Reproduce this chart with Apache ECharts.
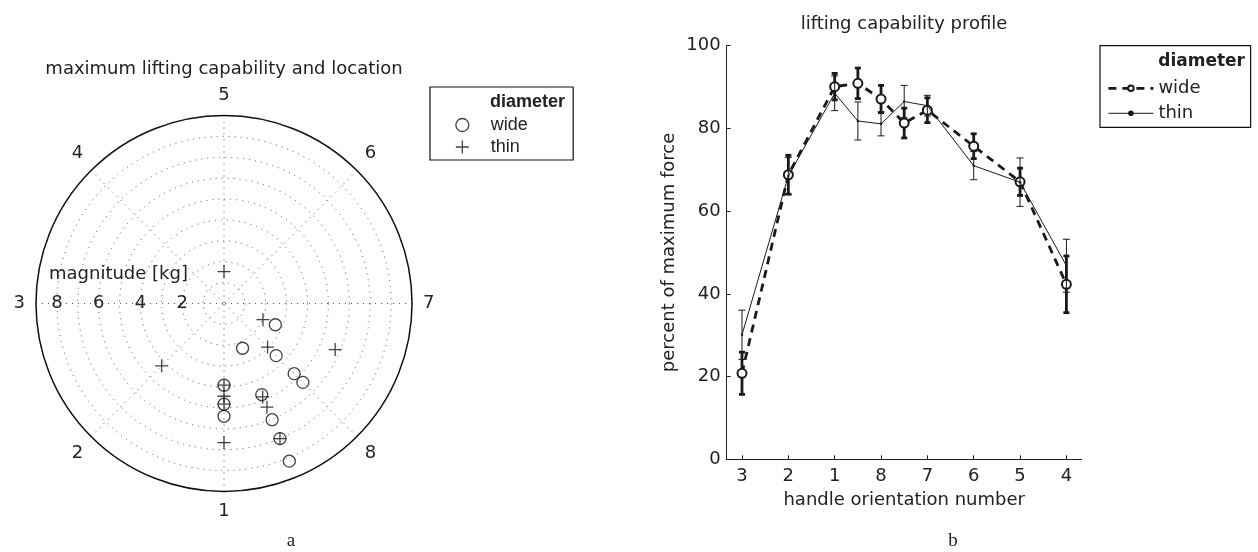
<!DOCTYPE html>
<html><head><meta charset="utf-8">
<script src="https://cdn.jsdelivr.net/npm/echarts@6/dist/echarts.min.js"></script>
<style>html,body{margin:0;padding:0;background:#fff}#c{width:1258px;height:552px}</style>
</head><body><div id="c"></div>
<script>
// ---- panel a: polar scatter (direction number, magnitude in kg) ----
const polarDirLabels = ['3', '4', '5', '6', '7', '8', '1', '2']; // angle ticks 0,45,...,315
const radiusTicks = [2, 4, 6, 8];
const wideDir = [7.5, 8, 8, 8, 8.5, 8.5, 8.5, 8.5, 8.5, 1, 1, 1];
const wideMag = [2.66, 3.53, 4.75, 5.34, 2.32, 4.72, 6.02, 7.0, 8.17, 3.91, 4.82, 5.40];
const thinDir = [7.5, 7.5, 8, 8.5, 8.5, 8.5, 1, 1, 1, 1, 2, 5];
const thinMag = [2.02, 5.76, 2.95, 4.84, 5.37, 7.0, 3.91, 4.44, 4.82, 6.66, 4.22, 1.53];

// ---- panel b: lifting capability profile ----
const orientLabels = ['3', '2', '1', '8', '7', '6', '5', '4'];
const profilePos = [0, 1, 2, 2.5, 3, 3.5, 4, 5, 6, 7];
const wideMean = [20.8, 68.8, 90.1, 90.9, 87.1, 81.3, 84.4, 75.7, 67.1, 42.3];
const wideErr = [5.1, 4.7, 3.2, 3.7, 3.3, 3.6, 3.0, 3.0, 3.3, 6.85];
const thinMean = [30.1, 68.5, 88.5, 81.8, 81.1, 86.5, 85.5, 71.0, 67.0, 46.8];
const thinErr = [5.95, 4.5, 4.2, 4.6, 2.9, 3.9, 2.5, 3.4, 5.85, 6.4];

const FONT = 'DejaVu Sans';
const TXT = '#222';
const dirAngle = d => ((d - 3) * 45 + 360) % 360;

function errBar(lw, cap) {
  return function (params, api) {
    const x = api.value(0), lo = api.value(1), hi = api.value(2);
    const a = api.coord([x, lo]), b = api.coord([x, hi]);
    const st = { stroke: '#1a1a1a', lineWidth: lw };
    return { type: 'group', children: [
      { type: 'line', shape: { x1: a[0], y1: a[1], x2: b[0], y2: b[1] }, style: st },
      { type: 'line', shape: { x1: a[0] - cap, y1: a[1], x2: a[0] + cap, y2: a[1] }, style: st },
      { type: 'line', shape: { x1: b[0] - cap, y1: b[1], x2: b[0] + cap, y2: b[1] }, style: st }
    ]};
  };
}

const dotted = { color: '#555', width: 1, type: [1, 5] };
const chart = echarts.init(document.getElementById('c'), null, { renderer: 'canvas' });
chart.setOption({
  animation: false,
  backgroundColor: '#fff',
  textStyle: { fontFamily: FONT, color: TXT },
  title: [
    { text: 'maximum lifting capability and location', left: 224, top: 60, textAlign: 'center', padding: 0,
      textStyle: { fontFamily: FONT, fontSize: 18, fontWeight: 'normal', color: TXT } },
    { text: 'magnitude [kg]', left: 49, top: 265, padding: 0,
      textStyle: { fontFamily: FONT, fontSize: 18, fontWeight: 'normal', color: TXT } },
    { text: 'diameter', left: 490, top: 93, padding: 0,
      textStyle: { fontFamily: 'Liberation Sans', fontSize: 18, fontWeight: 'bold', color: TXT } },
    { text: 'lifting capability profile', left: 904, top: 15, textAlign: 'center', padding: 0,
      textStyle: { fontFamily: FONT, fontSize: 18, fontWeight: 'normal', color: TXT } },
    { text: 'diameter', right: 13, top: 53, padding: 0,
      textStyle: { fontFamily: FONT, fontSize: 17, fontWeight: 'bold', color: TXT } },
    { text: 'a', left: 291, top: 532, textAlign: 'center', padding: 0,
      textStyle: { fontFamily: 'Liberation Serif', fontSize: 19, fontWeight: 'normal', color: TXT } },
    { text: 'b', left: 953, top: 532, textAlign: 'center', padding: 0,
      textStyle: { fontFamily: 'Liberation Serif', fontSize: 19, fontWeight: 'normal', color: TXT } }
  ],
  legend: [
    { orient: 'vertical', left: 430, top: 87, padding: [29, 45.5, 4, 25.2],
      borderColor: '#111', borderWidth: 1.2, backgroundColor: '#fff',
      itemWidth: 46.6, itemHeight: 13, itemGap: 4,
      itemStyle: { borderWidth: 1.3 },
      data: ['wide#p', 'thin#p'],
      formatter: n => n.split('#')[0],
      textStyle: { fontFamily: 'Liberation Sans', fontSize: 18, color: TXT } },
    { orient: 'vertical', left: 1100, top: 45.7, padding: [33.6, 50, 5, 7],
      borderColor: '#111', borderWidth: 1.2, backgroundColor: '#fff',
      itemWidth: 45, itemHeight: 7, itemGap: 7,
      data: [{ name: 'wide#l', lineStyle: { width: 2.8 } }, { name: 'thin#l', lineStyle: { width: 1 } }],
      formatter: n => n.split('#')[0],
      textStyle: { fontFamily: FONT, fontSize: 18, color: TXT } }
  ],
  polar: { center: [224, 303.5], radius: 188 },
  angleAxis: {
    type: 'value', min: 0, max: 360, interval: 45, startAngle: 180, clockwise: true,
    axisLine: { show: true, lineStyle: { color: '#111', width: 1.5 } },
    axisTick: { show: false },
    splitLine: { show: true, lineStyle: dotted },
    axisLabel: { margin: 11, fontFamily: FONT, fontSize: 18, color: TXT,
      formatter: v => (v >= 360 ? '' : polarDirLabels[Math.round(v / 45)]) }
  },
  radiusAxis: {
    type: 'value', min: 0, max: 9, interval: 1,
    axisLine: { show: false }, axisTick: { show: false },
    splitLine: { show: true, lineStyle: dotted },
    axisLabel: { margin: -9, fontFamily: FONT, fontSize: 18, color: TXT,
      formatter: v => (radiusTicks.indexOf(v) >= 0 ? String(v) : '') }
  },
  grid: { left: 726.7, right: 176.3, top: 45.7, bottom: 92.7, containLabel: false },
  xAxis: {
    type: 'value', min: -0.33, max: 7.33,
    name: 'handle orientation number', nameLocation: 'middle', nameGap: 32,
    nameTextStyle: { fontFamily: FONT, fontSize: 18, color: TXT },
    axisLine: { show: true, onZero: false, lineStyle: { color: '#222', width: 1 } },
    axisTick: { show: true, inside: true, length: 4, customValues: [0, 1, 2, 3, 4, 5, 6, 7], lineStyle: { color: '#222' } },
    axisLabel: { margin: 8, fontFamily: FONT, fontSize: 18, color: TXT,
      customValues: [0, 1, 2, 3, 4, 5, 6, 7],
      formatter: v => orientLabels[Math.round(v)] },
    splitLine: { show: false }
  },
  yAxis: {
    type: 'value', min: 0, max: 100, interval: 20,
    name: 'percent of maximum force', nameLocation: 'middle', nameGap: 48,
    nameTextStyle: { fontFamily: FONT, fontSize: 18, color: TXT },
    axisLine: { show: true, onZero: false, lineStyle: { color: '#222', width: 1 } },
    axisTick: { show: true, inside: true, length: 4, lineStyle: { color: '#222' } },
    axisLabel: { margin: 6, fontFamily: FONT, fontSize: 18, color: TXT },
    splitLine: { show: false }
  },
  series: [
    { name: 'wide#p', type: 'scatter', coordinateSystem: 'polar', symbol: 'circle', symbolSize: 12,
      itemStyle: { color: 'rgba(0,0,0,0)', borderColor: '#111', borderWidth: 1.3 },
      data: wideDir.map((d, i) => [wideMag[i], dirAngle(d)]) },
    { name: 'thin#p', type: 'scatter', coordinateSystem: 'polar', symbol: 'path://M0,5L10,5M5,0L5,10', symbolSize: 13,
      itemStyle: { color: 'rgba(0,0,0,0)', borderColor: '#111', borderWidth: 1.3 },
      data: thinDir.map((d, i) => [thinMag[i], dirAngle(d)]) },
    { name: 'wide#eb', type: 'custom', renderItem: errBar(2.8, 3), encode: { x: 0, y: [1, 2] }, z: 3,
      data: profilePos.map((p, i) => [p, wideMean[i] - wideErr[i], wideMean[i] + wideErr[i]]) },
    { name: 'wide#l', type: 'line', symbol: 'emptyCircle', symbolSize: 9, showAllSymbol: true, z: 4,
      lineStyle: { color: '#1a1a1a', width: 2.8, type: [8, 6] },
      itemStyle: { color: '#1a1a1a', borderWidth: 2.4 },
      data: profilePos.map((p, i) => [p, wideMean[i]]) },
    { name: 'thin#eb', type: 'custom', renderItem: errBar(1, 3.5), encode: { x: 0, y: [1, 2] }, z: 5,
      data: profilePos.map((p, i) => [p, thinMean[i] - thinErr[i], thinMean[i] + thinErr[i]]) },
    { name: 'thin#l', type: 'line', symbol: 'circle', symbolSize: 2.5, showAllSymbol: true, z: 6,
      lineStyle: { color: '#1a1a1a', width: 1 },
      itemStyle: { color: '#1a1a1a' },
      data: profilePos.map((p, i) => [p, thinMean[i]]) }
  ]
});
</script></body></html>
